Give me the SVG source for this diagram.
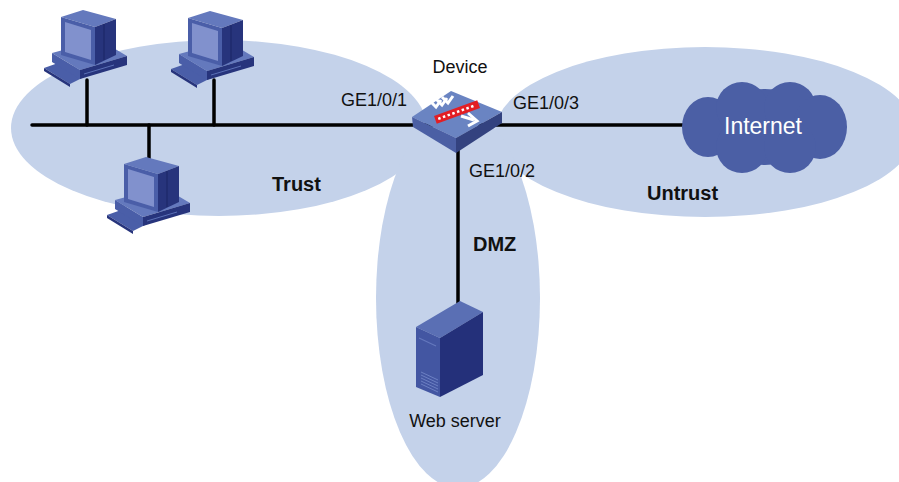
<svg xmlns="http://www.w3.org/2000/svg" xmlns:xlink="http://www.w3.org/1999/xlink" width="899" height="482" viewBox="0 0 899 482">
  <style>
    .zone { fill: #c4d2ea; }
    .link { stroke: #000; stroke-width: 3.5; fill: none; stroke-linecap: round; }
    .lbl { font-family: "Liberation Sans", Arial, sans-serif; font-size: 18px; fill: #111; }
    .zlbl { font-family: "Liberation Sans", Arial, sans-serif; font-size: 20px; font-weight: bold; fill: #111; }
    .mid { fill: #4a5ea8; }
    .lite { fill: #6479bd; }
    .dark { fill: #27347c; }
    .scr { fill: #8191cd; }
  </style>
  <defs>
    <!-- desktop PC: monitor on a flat case with keyboard -->
    <symbol id="pc" viewBox="0 0 85 78" width="85" height="78" overflow="visible">
      <!-- keyboard -->
      <polygon class="mid" points="0,58 17,52 42,66 26,74"/>
      <polygon class="dark" points="0,58 26,74 26,77 0,61"/>
      <!-- case -->
      <polygon class="lite" points="8,43 56,30 83,46 36,60"/>
      <polygon class="mid" points="8,43 36,60 36,69 8,52"/>
      <polygon class="dark" points="36,60 83,46 83,55 36,69"/>
      <line x1="40" y1="64" x2="70" y2="55" stroke="#5b70b6" stroke-width="1"/>
      <!-- monitor -->
      <polygon class="lite" points="17,7 39,0 72,9 51,17"/>
      <polygon class="mid" points="17,7 51,17 51,55 17,45"/>
      <polygon class="dark" points="51,17 72,9 72,45 51,55"/>
      <polygon class="scr" points="21,12 47,20 47,50 21,42"/>
      <line x1="60" y1="14" x2="60" y2="50" stroke="#1f2a6c" stroke-width="1.5"/>
    </symbol>
  </defs>

  <!-- security zones -->
  <g id="zones">
    <ellipse class="zone" cx="219" cy="128" rx="208" ry="88"/>
    <ellipse class="zone" cx="705" cy="132" rx="210" ry="85"/>
    <ellipse class="zone" cx="458" cy="298" rx="82" ry="190"/>
  </g>

  <!-- connectors -->
  <g id="connectors">
    <line class="link" x1="32" y1="125" x2="440" y2="125"/>
    <line class="link" x1="87" y1="80" x2="87" y2="125"/>
    <line class="link" x1="214" y1="80" x2="214" y2="125"/>
    <line class="link" x1="149" y1="125" x2="149" y2="165"/>
    <line class="link" x1="480" y1="125" x2="684" y2="125"/>
    <line class="link" x1="458" y1="145" x2="458" y2="308"/>
  </g>

  <g id="pc1"><use xlink:href="#pc" x="44" y="10"/></g>
  <g id="pc2"><use xlink:href="#pc" x="171" y="11"/></g>
  <g id="pc3"><use xlink:href="#pc" x="107" y="157"/></g>

  <!-- firewall device -->
  <g id="device">
    <polygon fill="#6a84c2" points="412,117 451,91 502,112 456,138"/>
    <polygon fill="#4b5fa4" points="412,117 456,138 456,153 413,127"/>
    <polygon fill="#33427f" points="456,138 502,112 502,123 456,153"/>
    <g transform="translate(457,112) rotate(-20)">
      <rect x="-23" y="-4" width="46" height="8" fill="#e31e24"/>
      <line x1="-20" y1="0" x2="20" y2="0" stroke="#fff" stroke-width="2.5" stroke-dasharray="2.5 2.5"/>
    </g>
    <g fill="none" stroke="#fff" stroke-width="3" stroke-linejoin="miter">
      <polyline points="430,101 436,107 441,100"/>
      <polyline points="436,99 442,105 447,98"/>
      <polyline points="442,97 448,103 453,96"/>
      <line x1="461" y1="116" x2="474" y2="120"/>
      <polyline points="468,113 477,121 468,126"/>
    </g>
    <text class="lbl" x="460" y="73" text-anchor="middle">Device</text>
  </g>

  <!-- Internet cloud -->
  <g id="internet" fill="#4b5fa5">
    <ellipse cx="765" cy="127" rx="70" ry="38"/>
    <ellipse cx="708" cy="127" rx="26" ry="30"/>
    <circle cx="742" cy="108" r="26"/>
    <circle cx="790" cy="108" r="26"/>
    <ellipse cx="820" cy="127" rx="27" ry="32"/>
    <circle cx="742" cy="147" r="26"/>
    <circle cx="790" cy="147" r="26"/>
    <text x="763" y="134" text-anchor="middle" font-family="Liberation Sans, Arial, sans-serif" font-size="23" fill="#fff">Internet</text>
  </g>

  <!-- web server tower -->
  <g id="webserver">
    <polygon fill="#5a6fb4" points="416,327 460,301 483,312 440,338"/>
    <polygon fill="#4356a2" points="416,327 440,338 440,397 416,387"/>
    <polygon fill="#24307a" points="440,338 483,312 483,375 440,397"/>
    <line x1="419" y1="338" x2="436" y2="346" stroke="#6478bd" stroke-width="1.2"/>
    <g stroke="#7184c6" stroke-width="0.9">
      <line x1="421" y1="372" x2="438" y2="380"/>
      <line x1="421" y1="375" x2="438" y2="383"/>
      <line x1="421" y1="378" x2="438" y2="386"/>
      <line x1="421" y1="381" x2="438" y2="389"/>
      <line x1="421" y1="384" x2="438" y2="392"/>
    </g>
    <text class="lbl" x="455" y="427" text-anchor="middle">Web server</text>
  </g>

  <!-- interface and zone labels -->
  <g id="labels">
    <text class="lbl" x="341" y="106">GE1/0/1</text>
    <text class="lbl" x="513" y="109">GE1/0/3</text>
    <text class="lbl" x="469" y="177">GE1/0/2</text>
    <text class="zlbl" x="272" y="191">Trust</text>
    <text class="zlbl" x="647" y="200">Untrust</text>
    <text class="zlbl" x="473" y="251">DMZ</text>
  </g>
</svg>
